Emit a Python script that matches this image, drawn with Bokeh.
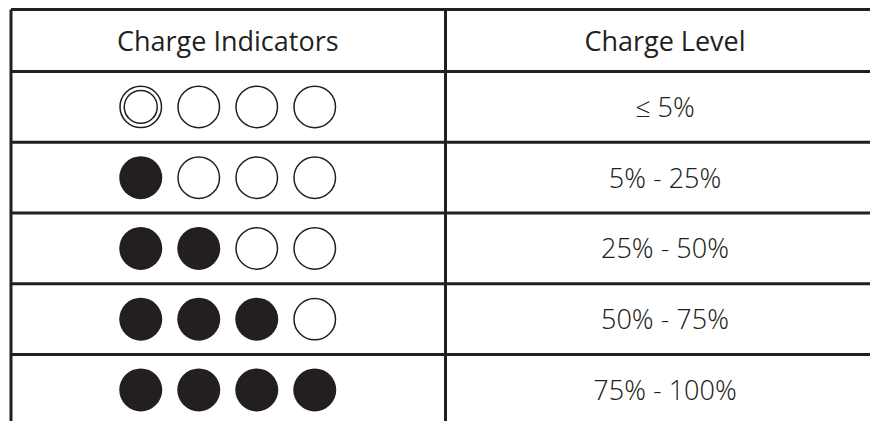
from bokeh.plotting import figure
from bokeh.models import Range1d
from bokeh.core.properties import value
from bokeh.embed import file_html
from bokeh.resources import INLINE

# ---- data ----
headers = ["Charge Indicators", "Charge Level"]
charge_levels = ["≤ 5%", "5% - 25%", "25% - 50%", "50% - 75%", "75% - 100%"]
filled_count = [0, 1, 2, 3, 4]
blinking_first = [True, False, False, False, False]
n_indicators = 4

# ---- layout (image-pixel coordinates) ----
INK = "#231f20"
left, mid, right = 10.5, 445, 884
top = 9
header_h = 62
row_h = 70.75
bottom = top + header_h + row_h * len(charge_levels)
col1_c = (left + mid) / 2 - 0.5
col2_c = (mid + right) / 2
spacing = 58
diam = 43
inner_diam = 33
FONT = value("Open Sans")
BODY_FONT = value("Open Sans Light, Open Sans")
FS = "27px"
text_dy = -0.5

p = figure(width=870, height=421, output_backend="svg", toolbar_location=None,
           x_range=Range1d(0, 870), y_range=Range1d(421, 0),
           min_border=0, outline_line_color=None, background_fill_color="white",
           border_fill_color="white")
p.axis.visible = False
p.grid.visible = False

# table lines
hy = [top, top + header_h] + [top + header_h + row_h * (i + 1) for i in range(len(charge_levels))]
p.segment(x0=[left] * len(hy), y0=hy, x1=[right] * len(hy), y1=hy, line_color=INK, line_width=3)
p.segment(x0=[left, mid, right], y0=[top] * 3, x1=[left, mid, right], y1=[bottom] * 3,
          line_color=INK, line_width=3)

# headers
p.text(x=[col1_c, col2_c], y=[top + header_h / 2 + text_dy] * 2, text=headers,
       text_align="center", text_baseline="middle", text_font=FONT,
       text_font_size=FS, text_color=INK)

# rows
row_y = [top + header_h + row_h * (i + 0.5) for i in range(len(charge_levels))]
p.text(x=[col2_c] * len(charge_levels), y=[y + text_dy for y in row_y], text=charge_levels,
       text_align="center", text_baseline="middle", text_font=BODY_FONT,
       text_font_size=FS, text_color=INK)

fx, fy, ox, oy, ix, iy = [], [], [], [], [], []
for r, (cnt, blink) in enumerate(zip(filled_count, blinking_first)):
    for j in range(n_indicators):
        x = col1_c + (j - (n_indicators - 1) / 2) * spacing
        y = row_y[r]
        if j < cnt:
            fx.append(x); fy.append(y)
        else:
            ox.append(x); oy.append(y)
            if blink and j == 0:
                ix.append(x); iy.append(y)

p.scatter(x=fx, y=fy, marker="circle", size=diam, fill_color=INK, line_color=None)
p.scatter(x=ox, y=oy, marker="circle", size=diam - 1.5, fill_color="white", line_color=INK, line_width=1.5)
p.scatter(x=ix, y=iy, marker="circle", size=inner_diam, fill_color=None, line_color=INK, line_width=1.5)

open("out.html", "w").write(file_html(p, INLINE))
